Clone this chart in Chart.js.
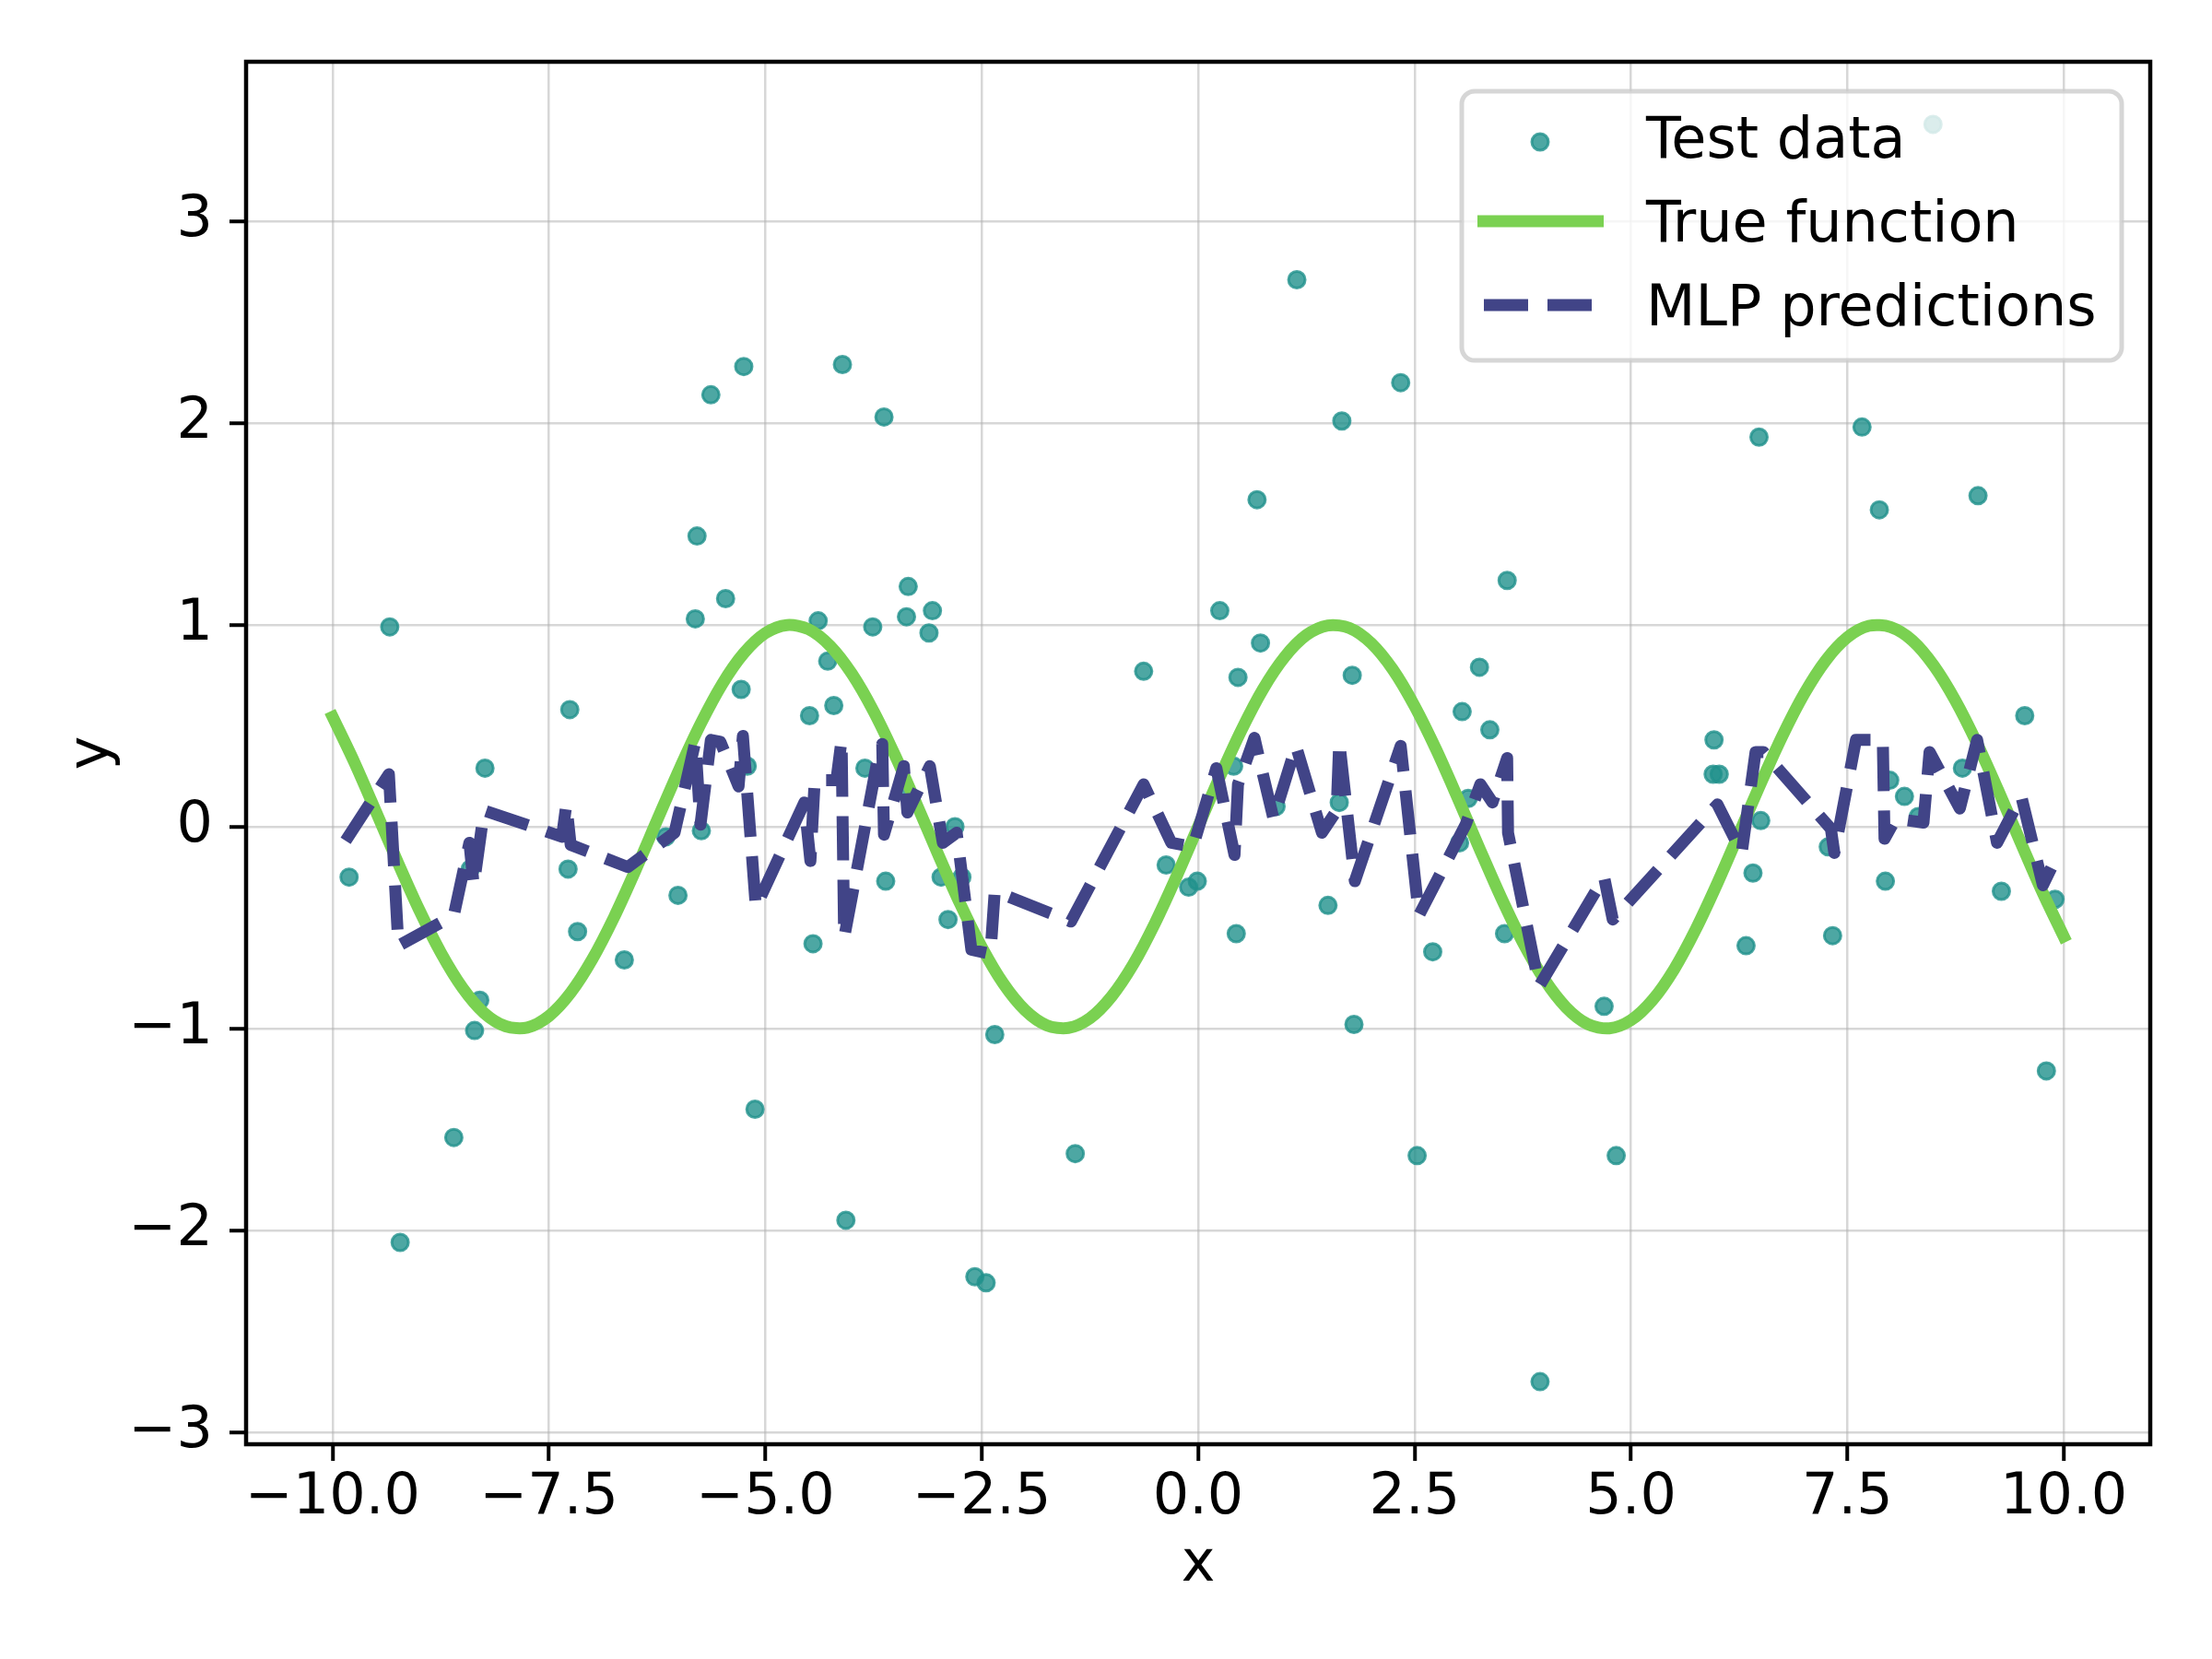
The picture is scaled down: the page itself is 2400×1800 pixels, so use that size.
<!DOCTYPE html>
<html>
<head>
<meta charset="utf-8">
<script src="https://cdn.jsdelivr.net/npm/chart.js@4.4.1/dist/chart.umd.min.js"></script>
<style>
    html, body { margin: 0; padding: 0; background: #fff; }
    canvas { display: block; }
</style>
</head>
<body>
<canvas id="chart" width="2400" height="1800"></canvas>
<script>
// test data (scatter)
var testX = [-9.81, -9.34, -9.22, -8.60, -8.41, -8.36, -8.30, -8.24, -7.28, -7.26,
    -7.17, -6.63, -6.15, -6.01, -5.81, -5.79, -5.74, -5.63, -5.46, -5.28,
    -5.25, -5.21, -5.12, -4.49, -4.45, -4.39, -4.28, -4.21, -4.11, -4.07,
    -3.85, -3.76, -3.63, -3.61, -3.37, -3.36, -3.35, -3.11, -3.07, -2.97,
    -2.89, -2.81, -2.73, -2.58, -2.45, -2.35, -1.42, -0.63, -0.37, -0.11,
    -0.01, 0.25, 0.41, 0.44, 0.46, 0.68, 0.72, 0.90, 1.14, 1.50,
    1.63, 1.66, 1.78, 1.80, 2.34, 2.53, 2.71, 3.02, 3.05, 3.12,
    3.25, 3.37, 3.54, 3.57, 3.95, 4.69, 4.83, 5.95, 5.96, 6.02,
    6.33, 6.41, 6.48, 6.50, 7.28, 7.33, 7.67, 7.87, 7.94, 7.99,
    8.16, 8.32, 8.49, 8.83, 9.01, 9.28, 9.55, 9.80, 9.90];
var testY = [-0.25, 0.99, -2.06, -1.54, -0.21, -1.01, -0.86, 0.29, -0.21, 0.58,
    -0.52, -0.66, -0.05, -0.34, 1.03, 1.44, -0.02, 2.14, 1.13, 0.68,
    2.28, 0.30, -1.40, 0.55, -0.58, 1.02, 0.82, 0.60, 2.29, -1.95,
    0.29, 0.99, 2.03, -0.27, 1.04, 0.16, 1.19, 0.96, 1.07, -0.25,
    -0.46, 0.00, -0.25, -2.23, -2.26, -1.03, -1.62, 0.77, -0.19, -0.30,
    -0.27, 1.07, 0.30, -0.53, 0.74, 1.62, 0.91, 0.10, 2.71, -0.39,
    0.12, 2.01, 0.75, -0.98, 2.20, -1.63, -0.62, -0.08, 0.57, 0.14,
    0.79, 0.48, -0.53, 1.22, -2.75, -0.89, -1.63, 0.26, 0.43, 0.26,
    -0.59, -0.23, 1.93, 0.03, -0.10, -0.54, 1.98, 1.57, -0.27, 0.23,
    0.15, 0.05, 3.48, 0.29, 1.64, -0.32, 0.55, -1.21, -0.36];

// true function
var trueX = [-10, -9.75, -9.5, -9.25, -9, -8.75, -8.5, -8.25, -8, -7.75,
    -7.5, -7.25, -7, -6.75, -6.5, -6.25, -6, -5.75, -5.5, -5.25,
    -5, -4.75, -4.5, -4.25, -4, -3.75, -3.5, -3.25, -3, -2.75,
    -2.5, -2.25, -2, -1.75, -1.5, -1.25, -1, -0.75, -0.5, -0.25,
    0, 0.25, 0.5, 0.75, 1, 1.25, 1.5, 1.75, 2, 2.25,
    2.5, 2.75, 3, 3.25, 3.5, 3.75, 4, 4.25, 4.5, 4.75,
    5, 5.25, 5.5, 5.75, 6, 6.25, 6.5, 6.75, 7, 7.25,
    7.5, 7.75, 8, 8.25, 8.5, 8.75, 9, 9.25, 9.5, 9.75, 10];
var trueY = [0.544, 0.320, 0.075, -0.174, -0.412, -0.624, -0.798, -0.923, -0.989, -0.995,
    -0.938, -0.823, -0.657, -0.450, -0.215, 0.033, 0.279, 0.508, 0.706, 0.859,
    0.959, 0.999, 0.978, 0.895, 0.757, 0.572, 0.351, 0.108, -0.141, -0.382,
    -0.598, -0.778, -0.909, -0.984, -0.997, -0.949, -0.841, -0.682, -0.479, -0.247,
    0, 0.247, 0.479, 0.682, 0.841, 0.949, 0.997, 0.984, 0.909, 0.778,
    0.598, 0.382, 0.141, -0.108, -0.351, -0.572, -0.757, -0.895, -0.978, -0.999,
    -0.959, -0.859, -0.706, -0.508, -0.279, -0.033, 0.215, 0.450, 0.657, 0.823,
    0.938, 0.995, 0.989, 0.923, 0.798, 0.624, 0.412, 0.174, -0.075, -0.320, -0.544];

// MLP predictions (dashed line vertices)
var mlpX = [-9.85, -9.35, -9.24, -8.60, -8.42, -8.37, -8.25, -7.35, -7.30, -7.25,
    -6.59, -6.05, -5.81, -5.75, -5.63, -5.52, -5.31, -5.26, -5.11, -4.55,
    -4.48, -4.43, -4.18, -4.12, -4.09, -3.70, -3.65, -3.63, -3.40, -3.36,
    -3.10, -2.95, -2.79, -2.62, -2.40, -2.35, -1.47, -0.63, -0.31, -0.06,
    0.21, 0.42, 0.46, 0.65, 0.72, 0.87, 1.13, 1.43, 1.60, 1.63,
    1.81, 2.34, 2.55, 3.09, 3.26, 3.40, 3.57, 3.58, 3.94, 4.69,
    4.79, 6.00, 6.28, 6.44, 6.53, 7.31, 7.35, 7.60, 7.91, 7.93,
    8.06, 8.38, 8.45, 8.80, 9.00, 9.23, 9.51, 9.76, 9.94];
var mlpY = [-0.07, 0.26, -0.59, -0.44, -0.08, -0.29, 0.08, -0.05, 0.11, -0.09,
    -0.20, -0.03, 0.42, 0.01, 0.43, 0.42, 0.20, 0.45, -0.40, 0.12,
    -0.17, 0.23, 0.23, 0.43, -0.55, 0.34, 0.41, -0.04, 0.30, 0.07,
    0.30, -0.08, -0.03, -0.61, -0.63, -0.32, -0.47, 0.21, -0.08, -0.10,
    0.29, -0.14, 0.21, 0.44, 0.31, 0.04, 0.40, -0.03, 0.08, 0.42,
    -0.27, 0.40, -0.44, 0.01, 0.21, 0.12, 0.34, -0.03, -0.79, -0.25,
    -0.46, 0.11, -0.13, 0.37, 0.37, -0.01, -0.13, 0.43, 0.43, -0.06,
    0.04, 0.02, 0.37, 0.09, 0.43, -0.08, 0.15, -0.29, -0.13];

var xTicks = [-10, -7.5, -5, -2.5, 0, 2.5, 5, 7.5, 10];
var yTicks = [-3, -2, -1, 0, 1, 2, 3];
var seriesNames = ["Test data", "True function", "MLP predictions"];

var teal = "rgba(33, 145, 140, 0.8)";
var green = "#7ad151";
var navy = "#414487";

function toPoints(xs, ys) {
    return xs.map((x, i) => ({ x: x, y: ys[i] }));
}

function minusSign(s) {
    return s.replace("-", "\u2212");
}

// black box around the plot area
const framePlugin = {
    id: "frame",
    afterDraw(chart) {
        const a = chart.chartArea;
        const ctx = chart.ctx;
        ctx.save();
        ctx.strokeStyle = "#000";
        ctx.lineWidth = 4.5;
        ctx.strokeRect(a.left, a.top, a.right - a.left, a.bottom - a.top);
        ctx.restore();
    }
};

// matplotlib-like legend in the upper right corner
const legendPlugin = {
    id: "boxLegend",
    afterDatasetsDraw(chart) {
        const ctx = chart.ctx;
        const x0 = 1586, y0 = 99, x1 = 2302, y1 = 391, r = 14;
        ctx.save();
        ctx.beginPath();
        ctx.moveTo(x0 + r, y0);
        ctx.arcTo(x1, y0, x1, y1, r);
        ctx.arcTo(x1, y1, x0, y1, r);
        ctx.arcTo(x0, y1, x0, y0, r);
        ctx.arcTo(x0, y0, x1, y0, r);
        ctx.closePath();
        ctx.fillStyle = "rgba(255,255,255,0.8)";
        ctx.fill();
        ctx.lineWidth = 5;
        ctx.strokeStyle = "rgba(204,204,204,0.8)";
        ctx.stroke();

        // scatter marker
        ctx.beginPath();
        ctx.arc(1671, 154, 9, 0, Math.PI * 2);
        ctx.fillStyle = teal;
        ctx.fill();
        ctx.lineWidth = 3;
        ctx.strokeStyle = teal;
        ctx.stroke();

        // green line
        ctx.beginPath();
        ctx.moveTo(1603, 240);
        ctx.lineTo(1740, 240);
        ctx.lineWidth = 13;
        ctx.lineCap = "butt";
        ctx.strokeStyle = green;
        ctx.stroke();

        // dashed line
        ctx.beginPath();
        ctx.setLineDash([48, 21]);
        ctx.lineDashOffset = -7;
        ctx.moveTo(1603, 331);
        ctx.lineTo(1740, 331);
        ctx.strokeStyle = navy;
        ctx.stroke();
        ctx.setLineDash([]);

        ctx.fillStyle = "#000";
        ctx.font = "62px 'DejaVu Sans'";
        ctx.textBaseline = "alphabetic";
        ctx.textAlign = "left";
        ctx.fillText(seriesNames[0], 1786, 171);
        ctx.fillText(seriesNames[1], 1786, 262);
        ctx.fillText(seriesNames[2], 1786, 353);
        ctx.restore();
    }
};

Chart.defaults.font.family = "'DejaVu Sans'";
Chart.defaults.color = "#000";

new Chart(document.getElementById("chart"), {
    type: "scatter",
    data: {
        datasets: [{
            label: seriesNames[2],
            data: toPoints(mlpX, mlpY),
            showLine: true,
            pointRadius: 0,
            borderColor: navy,
            borderWidth: 13,
            borderDash: [48, 21],
            borderCapStyle: "butt",
            borderJoinStyle: "round",
            tension: 0,
            order: 0
        }, {
            label: seriesNames[1],
            data: toPoints(trueX, trueY),
            showLine: true,
            pointRadius: 0,
            borderColor: green,
            borderWidth: 13,
            borderCapStyle: "square",
            tension: 0.3,
            order: 1
        }, {
            label: seriesNames[0],
            data: toPoints(testX, testY),
            pointRadius: 9,
            pointBorderWidth: 3,
            backgroundColor: teal,
            borderColor: teal,
            order: 2
        }]
    },
    options: {
        responsive: false,
        devicePixelRatio: 1,
        animation: false,
        layout: { padding: { left: 0, top: 67, right: 67, bottom: 0 } },
        plugins: {
            legend: { display: false },
            tooltip: { enabled: false }
        },
        scales: {
            x: {
                type: "linear",
                min: -11,
                max: 11,
                afterBuildTicks: (scale) => { scale.ticks = xTicks.map(v => ({ value: v })); },
                afterFit: (scale) => { scale.height = 233; },
                grid: {
                    color: "rgba(176,176,176,0.5)",
                    lineWidth: 2.5,
                    tickColor: "#000",
                    tickWidth: 4,
                    tickLength: 18
                },
                border: { display: false },
                ticks: {
                    padding: 4,
                    maxRotation: 0,
                    font: { size: 62 },
                    callback: (v) => minusSign(v.toFixed(1))
                },
                title: {
                    display: true,
                    text: "x",
                    font: { size: 62 },
                    padding: { top: 0, bottom: 64 }
                }
            },
            y: {
                type: "linear",
                min: -3.06,
                max: 3.79,
                afterBuildTicks: (scale) => { scale.ticks = yTicks.map(v => ({ value: v })); },
                afterFit: (scale) => { scale.width = 267; },
                grid: {
                    color: "rgba(176,176,176,0.5)",
                    lineWidth: 2.5,
                    tickColor: "#000",
                    tickWidth: 4,
                    tickLength: 18
                },
                border: { display: false },
                ticks: {
                    padding: 18,
                    font: { size: 62 },
                    callback: (v) => minusSign(String(v))
                },
                title: {
                    display: true,
                    text: "y",
                    font: { size: 62 },
                    padding: { top: 64, bottom: 0 }
                }
            }
        }
    },
    plugins: [legendPlugin, framePlugin]
});
</script>
</body>
</html>
